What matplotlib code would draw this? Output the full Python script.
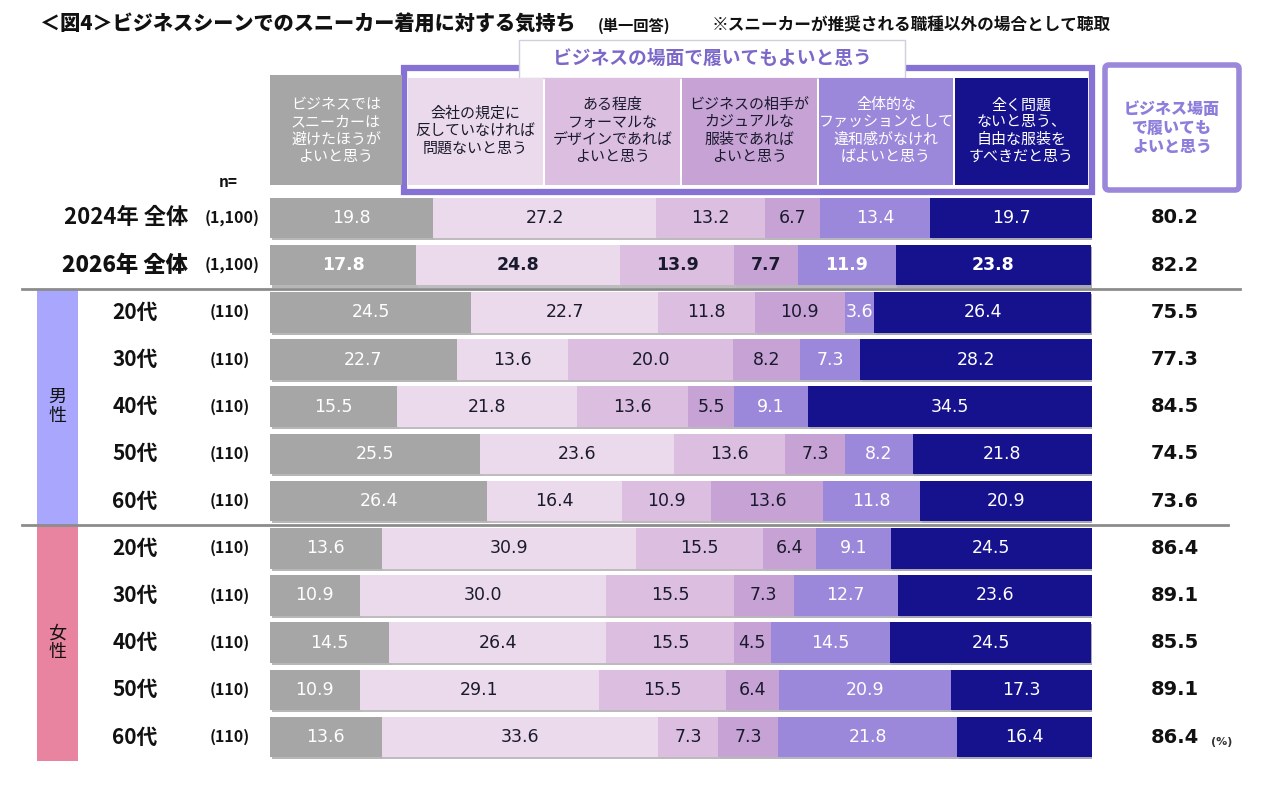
import matplotlib
matplotlib.use('Agg')
import matplotlib.pyplot as plt
import matplotlib.patches as mpatches
import matplotlib.transforms as mtransforms
import matplotlib.patheffects as pe

plt.rcParams['font.family'] = ['Noto Sans CJK JP', 'DejaVu Sans']

# ---- data ----
row_labels = ["2024年 全体", "2026年 全体",
              "20代", "30代", "40代", "50代", "60代",
              "20代", "30代", "40代", "50代", "60代"]
row_n = ["(1,100)", "(1,100)"] + ["(110)"] * 10

categories = [
    "ビジネスでは\nスニーカーは\n避けたほうが\nよいと思う",
    "会社の規定に\n反していなければ\n問題ないと思う",
    "ある程度\nフォーマルな\nデザインであれば\nよいと思う",
    "ビジネスの相手が\nカジュアルな\n服装であれば\nよいと思う",
    "全体的な\nファッションとして\n違和感がなけれ\nばよいと思う",
    "全く問題\nないと思う、\n自由な服装を\nすべきだと思う",
]

avoid      = [19.8, 17.8, 24.5, 22.7, 15.5, 25.5, 26.4, 13.6, 10.9, 14.5, 10.9, 13.6]
company    = [27.2, 24.8, 22.7, 13.6, 21.8, 23.6, 16.4, 30.9, 30.0, 26.4, 29.1, 33.6]
formal     = [13.2, 13.9, 11.8, 20.0, 13.6, 13.6, 10.9, 15.5, 15.5, 15.5, 15.5, 7.3]
partner    = [6.7, 7.7, 10.9, 8.2, 5.5, 7.3, 13.6, 6.4, 7.3, 4.5, 6.4, 7.3]
fashion    = [13.4, 11.9, 3.6, 7.3, 9.1, 8.2, 11.8, 9.1, 12.7, 14.5, 20.9, 21.8]
free       = [19.7, 23.8, 26.4, 28.2, 34.5, 21.8, 20.9, 24.5, 23.6, 24.5, 17.3, 16.4]
ok_total   = [80.2, 82.2, 75.5, 77.3, 84.5, 74.5, 73.6, 86.4, 89.1, 85.5, 89.1, 86.4]

series = [avoid, company, formal, partner, fashion, free]
colors = ["#a6a6a6", "#ebdaeb", "#dcbfe0", "#c6a2d5", "#9c88da", "#16128e"]
text_colors = ["white", "#1a1a2e", "#1a1a2e", "#1a1a2e", "white", "white"]

W, H = 1280, 799
fig = plt.figure(figsize=(12.8, 7.99), dpi=100)
fig.patch.set_facecolor("white")

# overlay in pixel coordinates for decorations
ov = fig.add_axes([0, 0, 1, 1])
ov.set_xlim(0, W)
ov.set_ylim(H, 0)
ov.axis("off")

# ---- main bars ----
x0, x1 = 270, 1092
y_top, y_bot = 194.4, 760.6
ax = fig.add_axes([x0 / W, 1 - y_bot / H, (x1 - x0) / W, (y_bot - y_top) / H])
ax.set_xlim(0, 100)
ax.set_ylim(11.5, -0.5)
ax.axis("off")
ax.patch.set_alpha(0)

shadow = [pe.SimplePatchShadow(offset=(1.2, -1.5), alpha=0.35), pe.Normal()]
ypos = list(range(len(row_labels)))
left = [0.0] * len(ypos)
for s, vals in enumerate(series):
    bars = ax.barh(ypos, vals, left=left, height=0.86, color=colors[s],
                   edgecolor="none")
    for b in bars:
        b.set_path_effects(shadow)
    for i, v in enumerate(vals):
        ax.text(left[i] + v / 2, i, f"{v:.1f}", ha="center", va="center",
                color=text_colors[s], fontsize=12.5, family="DejaVu Sans",
                fontweight="bold" if i == 1 else "normal")
    left = [l + v for l, v in zip(left, vals)]

# totals column
tx = mtransforms.blended_transform_factory(fig.transFigure, ax.transData)
for i, v in enumerate(ok_total):
    ax.text(1175 / W, i, f"{v:.1f}", transform=tx, ha="center", va="center",
            fontsize=14, fontweight="bold", family="DejaVu Sans", color="#111111")
ax.text(1222 / W, 11.1, "(%)", transform=tx, ha="center", va="center",
        fontsize=8, fontweight="bold", family="DejaVu Sans", color="#333333")

# row labels
for i, lab in enumerate(row_labels):
    if i < 2:
        ax.text(188 / W, i, lab, transform=tx, ha="right", va="center",
                fontsize=16, fontweight="heavy" if i == 1 else "bold",
                color="#111111")
        ax.text(232 / W, i, row_n[i], transform=tx, ha="center", va="center",
                fontsize=11.5, fontweight="bold", color="#111111")
    else:
        ax.text(135 / W, i, lab, transform=tx, ha="center", va="center",
                fontsize=15, fontweight="bold", color="#111111")
        ax.text(230 / W, i, row_n[i], transform=tx, ha="center", va="center",
                fontsize=11.5, fontweight="bold", color="#111111")

# gender bands
for (ya, yb, col, lab) in [(1.5, 6.5, "#a8a6fd", "男\n性"), (6.5, 11.5, "#e8849f", "女\n性")]:
    ax.add_patch(mpatches.Rectangle((37 / W, ya), 41 / W, yb - ya, transform=tx,
                                    facecolor=col, edgecolor="none", clip_on=False))
    ax.text(57.5 / W, (ya + yb) / 2, lab, transform=tx, ha="center", va="center",
            fontsize=13, color="#111111", linespacing=1.05)

# separators
ax.plot([22 / W, 1240 / W], [1.5, 1.5], transform=tx, color="#8c8c8c", lw=2,
        clip_on=False)
ax.plot([22 / W, 1228 / W], [6.5, 6.5], transform=tx, color="#8c8c8c", lw=2,
        clip_on=False)

# ---- header ----
ov.text(40, 25, "＜図4＞ビジネスシーンでのスニーカー着用に対する気持ち", ha="left",
        va="center", fontsize=14.5, fontweight="heavy", color="#111111")
ov.text(598, 26, "(単一回答)", ha="left", va="center", fontsize=11,
        fontweight="bold", color="#111111")
ov.text(712, 25, "※スニーカーが推奨される職種以外の場合として聴取", ha="left",
        va="center", fontsize=12, fontweight="bold", color="#111111")

ov.text(228, 182, "n=", ha="center", va="center", fontsize=11,
        fontweight="bold", color="#111111")

# purple frame around the five "OK" categories
ov.add_patch(mpatches.Rectangle((404, 68), 688, 124, facecolor="none",
                                edgecolor="#8572d4", lw=4.5))
ov.add_patch(mpatches.Rectangle((519, 40), 386, 38, facecolor="white",
                                edgecolor="#cfcfe0", lw=1))
ov.text(712, 58, "ビジネスの場面で履いてもよいと思う", ha="center", va="center",
        fontsize=13.5, fontweight="bold", color="#7b68c8")

cells = [(270, 402), (408, 543), (545, 680), (682, 817), (819, 953), (955, 1088)]
for c, ((ca, cb), lab) in enumerate(zip(cells, categories)):
    ov.add_patch(mpatches.Rectangle((ca, 75 if c == 0 else 78), cb - ca,
                                    110 if c == 0 else 107,
                                    facecolor=colors[c], edgecolor="none"))
    ov.text((ca + cb) / 2, 131, lab, ha="center", va="center", fontsize=10.8,
            color="white" if c in (0, 4, 5) else "#1a1a2e", linespacing=1.3)

# right total box
ov.add_patch(mpatches.FancyBboxPatch((1105, 65), 134, 125,
                                     boxstyle="round,pad=0,rounding_size=4",
                                     facecolor="white", edgecolor="#9c88da", lw=4))
ov.text(1172, 128, "ビジネス場面\nで履いても\nよいと思う", ha="center", va="center",
        fontsize=11.5, fontweight="heavy", color="#8d7ddc", linespacing=1.3)

fig.savefig("out.png", dpi=100, facecolor="white")
